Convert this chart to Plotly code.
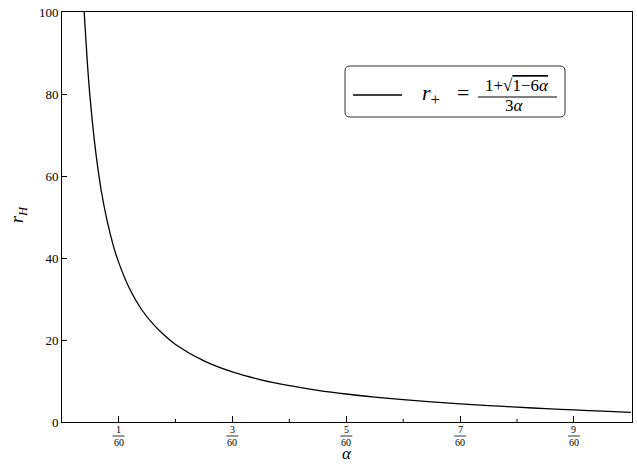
import plotly.graph_objects as go

# ── Data (alpha in units of 1/60, r_H) ─────────────────────────────
ALPHA_60 = [0.35, 0.4, 0.45, 0.5, 0.6, 0.7, 0.8, 0.9, 1.0, 1.2, 1.4, 1.6, 1.8,
            2.0, 2.5, 3.0, 3.5, 4.0, 4.5, 5.0, 5.5, 6.0, 6.5, 7.0, 7.5, 8.0,
            8.5, 9.0, 9.5, 10.0]
R_H = [113.3, 99.0, 87.9, 79.0, 65.7, 56.1, 49.0, 43.4, 39.0, 32.3, 27.5, 24.0,
       21.2, 18.9, 14.9, 12.2, 10.3, 8.87, 7.74, 6.83, 6.08, 5.44, 4.90, 4.42,
       4.00, 3.62, 3.26, 2.95, 2.65, 2.35]
alpha = [a / 60 for a in ALPHA_60]

X_MAJOR = [1, 3, 5, 7, 9]          # numerators over 60
X_MINOR = [2, 4, 6, 8]
Y_TICKS = [0, 20, 40, 60, 80, 100]

SERIF = "Liberation Serif, DejaVu Serif, serif"
W, H = 637, 464
M = dict(l=62, r=5, t=12, b=42)
PW, PH = W - M["l"] - M["r"], H - M["t"] - M["b"]


def px(x):  # pixel -> paper x
    return (x - M["l"]) / PW


def py(y):  # pixel -> paper y
    return (H - M["b"] - y) / PH


def label(x, y, text, size, **kw):
    fig.add_annotation(x=x, y=y, xref="paper", yref="paper", text=text, showarrow=False,
                       xanchor=kw.pop("xanchor", "center"), yanchor="middle",
                       font=dict(family=SERIF, size=size, color="black"), **kw)


fig = go.Figure(go.Scatter(
    x=alpha, y=R_H, mode="lines", line=dict(color="black", width=1.3, shape="spline"),
    showlegend=False, hoverinfo="skip",
))

# ── x tick labels drawn as stacked fractions ──────────────────────
for k in X_MAJOR:
    xv = k / 60
    fig.add_annotation(x=xv, y=0, xref="x", yref="paper", text=str(k), showarrow=False,
                       xanchor="center", yanchor="top", yshift=-1, borderpad=0,
                       font=dict(family=SERIF, size=10, color="black"))
    fig.add_annotation(x=xv, y=0, xref="x", yref="paper", text="60", showarrow=False,
                       xanchor="center", yanchor="top", yshift=-14, borderpad=0,
                       font=dict(family=SERIF, size=10, color="black"))
    fig.add_shape(type="line", xref="x", yref="paper", xsizemode="pixel", ysizemode="pixel",
                  xanchor=xv, yanchor=0, x0=-6, x1=6, y0=-14, y1=-14,
                  line=dict(color="black", width=0.8))

# minor ticks (inside)
for k in X_MINOR:
    fig.add_shape(type="line", xref="x", yref="paper", ysizemode="pixel", yanchor=0,
                  x0=k / 60, x1=k / 60, y0=0, y1=3, line=dict(color="black", width=1))

# axis titles
label(0.5, py(453), "<i>α</i>", 17, borderpad=0)
label(px(18), py(215), "<i>r<sub>H</sub></i>", 18, textangle=-90)

# ── legend box ────────────────────────────────────────────────────
x0, x1, y0, y1 = px(345), px(565), py(117), py(66)
rx, ry = 5 / PW, 5 / PH
path = (f"M{x0+rx},{y0} L{x1-rx},{y0} Q{x1},{y0} {x1},{y0+ry} L{x1},{y1-ry} "
        f"Q{x1},{y1} {x1-rx},{y1} L{x0+rx},{y1} Q{x0},{y1} {x0},{y1-ry} "
        f"L{x0},{y0+ry} Q{x0},{y0} {x0+rx},{y0} Z")
fig.add_shape(type="path", xref="paper", yref="paper", path=path,
              line=dict(color="#333", width=1), fillcolor="white")
fig.add_shape(type="line", xref="paper", yref="paper", x0=px(353), x1=px(402),
              y0=py(95), y1=py(95), line=dict(color="black", width=1.5))
label(px(420), py(95), "<i>r</i><sub><span style='font-size:17px'>+</span></sub>", 22,
      xanchor="left")
label(px(463), py(93), "=", 22)
label(px(517), py(85), "1+√<span style='text-decoration:overline'>1−6<i>α</i></span>", 17)
fig.add_shape(type="line", xref="paper", yref="paper", x0=px(478), x1=px(557),
              y0=py(97), y1=py(97), line=dict(color="black", width=1))
label(px(514), py(106), "3<i>α</i>", 17)

fig.update_layout(
    width=W, height=H, margin=M,
    plot_bgcolor="white", paper_bgcolor="white",
    font=dict(family=SERIF, size=13, color="black"),
    xaxis=dict(range=[0.0001, 0.167], tickvals=[k / 60 for k in X_MAJOR], showticklabels=False,
               ticks="inside", ticklen=6, tickcolor="black", showgrid=False, zeroline=False,
               showline=True, linecolor="black", linewidth=1, mirror=True, automargin=False),
    yaxis=dict(range=[0, 100], tickvals=Y_TICKS, ticks="inside", ticklen=5,
               tickcolor="black", showgrid=False, zeroline=False, automargin=False,
               showline=True, linecolor="black", linewidth=1, mirror=True),
)

fig.write_html("out.html", config={"displayModeBar": False},
               post_script="document.body.style.margin='0';")
